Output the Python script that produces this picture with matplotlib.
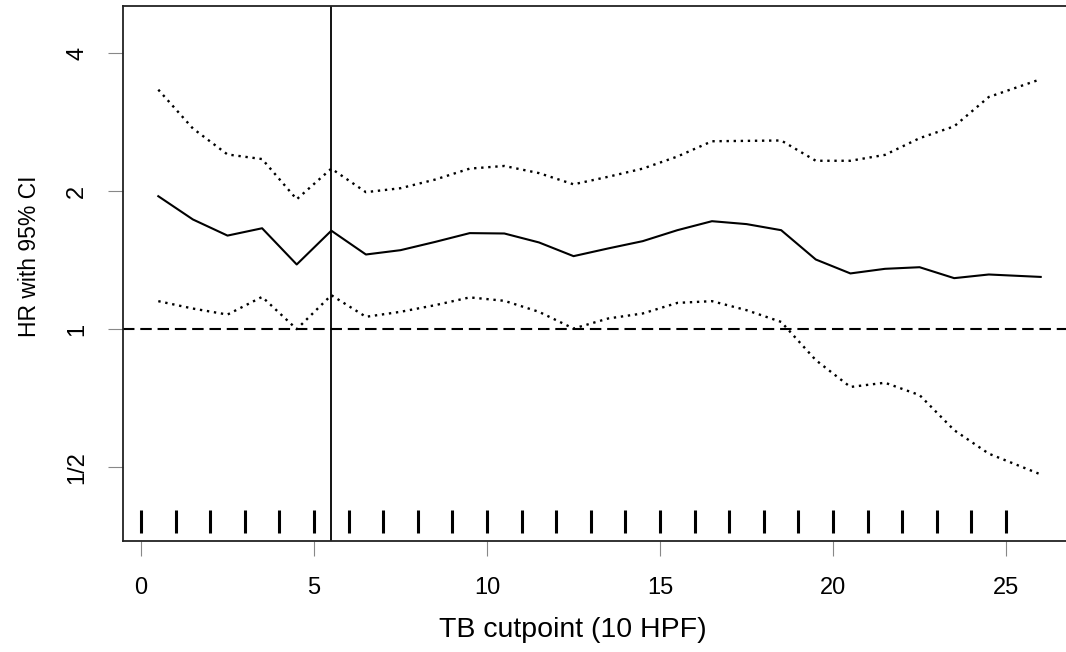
import matplotlib
matplotlib.use("Agg")
import matplotlib.pyplot as plt
from matplotlib.ticker import NullLocator

plt.rcParams['font.family'] = ['Liberation Sans', 'DejaVu Sans']

# cutpoints and hazard ratio with 95% CI
cut = [0.5, 1.5, 2.5, 3.5, 4.5, 5.5, 6.5, 7.5, 8.5, 9.5, 10.5, 11.5, 12.5,
       13.5, 14.5, 15.5, 16.5, 17.5, 18.5, 19.5, 20.5, 21.5, 22.5, 23.5,
       24.5, 26.0]
hr = [1.95, 1.735, 1.60, 1.66, 1.384, 1.64, 1.455, 1.487, 1.55, 1.62, 1.617,
      1.546, 1.443, 1.50, 1.556, 1.644, 1.72, 1.695, 1.644, 1.419, 1.323,
      1.354, 1.365, 1.292, 1.316, 1.30]
upper = [3.33, 2.74, 2.405, 2.35, 1.92, 2.24, 1.99, 2.03, 2.12, 2.24, 2.27,
         2.19, 2.07, 2.15, 2.24, 2.38, 2.57, 2.575, 2.58, 2.33, 2.33, 2.40,
         2.61, 2.77, 3.21, 3.51]
lower = [1.151, 1.109, 1.076, 1.176, 1.0, 1.186, 1.064, 1.091, 1.128, 1.173,
         1.153, 1.091, 1.003, 1.055, 1.082, 1.141, 1.151, 1.10, 1.037, 0.856,
         0.748, 0.764, 0.718, 0.602, 0.535, 0.482]
rug = list(range(26))
best_cut = 5.5

yticks = [0.5, 1, 2, 4]
ylabels = ['1/2', '1', '2', '4']
xticks = [0, 5, 10, 15, 20, 25]

fig = plt.figure(figsize=(10.66, 6.52), dpi=100)
ax = fig.add_axes([123 / 1066, 111 / 652, 953 / 1066, 535 / 652])

ax.plot(cut, hr, color='black', lw=1.5)
ax.plot(cut, upper, color='black', lw=1.7, ls=(0, (1, 2.0)))
ax.plot(cut, lower, color='black', lw=1.7, ls=(0, (1, 2.0)))
ax.axhline(1, color='black', lw=1.5, ls=(0, (5.5, 2.8)))
ax.axvline(best_cut, color='black', lw=1.3)
ax.vlines(rug, 0.015, 0.058, transform=ax.get_xaxis_transform(),
          color='black', lw=2.2)

ax.set_yscale('log', base=2)
ax.set_xlim(-0.52, 27.02)
ax.set_ylim(0.345, 5.07)
ax.set_yticks(yticks)
ax.set_yticklabels(ylabels, rotation=90, va='center')
ax.yaxis.set_minor_locator(NullLocator())
ax.set_xticks(xticks)

for s in ax.spines.values():
    s.set_linewidth(1.3)
    s.set_color('#222222')
ax.tick_params(axis='both', length=11, width=0.8, color='#888888',
               labelsize=17, pad=15)
ax.tick_params(axis='y', pad=14)

fig.text(573 / 1066, 1 - 630 / 652, 'TB cutpoint (10 HPF)', fontsize=20.5,
         ha='center', va='center')
fig.text(30 / 1066, 1 - 256 / 652, 'HR with 95% CI', fontsize=16.5,
         rotation=90, ha='center', va='center')

fig.savefig('out.png', dpi=100)
